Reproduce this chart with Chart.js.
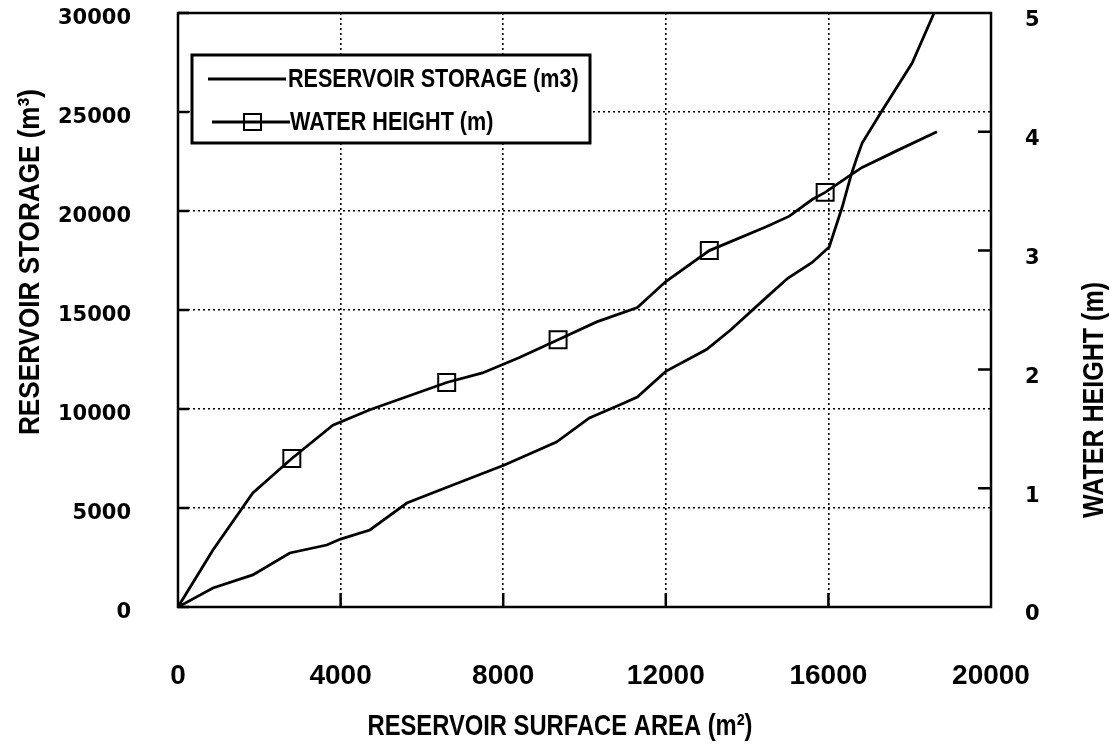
<!DOCTYPE html>
<html>
<head>
<meta charset="utf-8">
<script src="https://cdn.jsdelivr.net/npm/chart.js@4.4.1/dist/chart.umd.min.js"></script>
<style>
  html, body { margin: 0; padding: 0; background: #fff; }
  #wrap { width: 1110px; height: 753px; }
</style>
</head>
<body>
<div id="wrap"><canvas id="resChart" width="1110" height="753"></canvas></div>
<script>
// surface area (m2) vs storage (m3)
const storageArea = [0, 860, 1840, 2750, 3660, 4000, 4720, 5630, 6760, 8030, 9310, 10120, 10860, 11300, 12000, 13000, 13600, 14400, 15000, 15600, 16020, 16340, 16560, 16680, 16830, 17300, 18060, 18600];
const storageVolume = [0, 960, 1620, 2730, 3130, 3430, 3890, 5250, 6160, 7170, 8330, 9550, 10200, 10600, 11900, 13000, 14000, 15500, 16600, 17400, 18180, 20200, 21820, 22570, 23430, 25000, 27470, 30000];

// surface area (m2) vs water height (m)
const heightArea = [0, 860, 1840, 2800, 3810, 4720, 6610, 7490, 8400, 9350, 10300, 11300, 12000, 13070, 14470, 15040, 15600, 15920, 16560, 16830, 17740, 18670];
const heightValue = [0, 0.48, 0.96, 1.25, 1.53, 1.66, 1.89, 1.97, 2.10, 2.25, 2.40, 2.52, 2.74, 3.00, 3.20, 3.29, 3.43, 3.49, 3.64, 3.70, 3.85, 4.00];
const heightMarkers = [2800, 6610, 9350, 13070, 15920];

const areaTicks = [0, 4000, 8000, 12000, 16000, 20000];
const storageTicks = [0, 5000, 10000, 15000, 20000, 25000, 30000];
const heightTicks = [0, 1, 2, 3, 4, 5];

const xTitle = 'RESERVOIR SURFACE AREA (m²)';
const yTitle = 'RESERVOIR STORAGE (m³)';
const y2Title = 'WATER HEIGHT (m)';

const SANS = '"Liberation Sans", Arial, sans-serif';
const INK = '#000';

const toPoints = (xs, ys) => xs.map((x, i) => ({ x: x, y: ys[i] }));

// narrow bold lettering: regular bold face squeezed to a given width
function narrowText(ctx, text, x, y, size, width, rot) {
  ctx.save();
  ctx.font = 'bold ' + size + 'px ' + SANS;
  const sx = width / ctx.measureText(text).width;
  ctx.translate(x, y);
  ctx.rotate(rot || 0);
  ctx.scale(sx, 1);
  ctx.fillStyle = INK;
  ctx.textAlign = 'center';
  ctx.textBaseline = 'middle';
  ctx.fillText(text, 0, 0);
  ctx.restore();
}

// frame, inward tick marks, axis titles and the boxed legend
const framePlugin = {
  id: 'frame',
  afterDraw(chart) {
    const { ctx, chartArea: a, scales } = chart;
    ctx.save();
    ctx.strokeStyle = INK;
    ctx.lineWidth = 2.5;
    ctx.strokeRect(a.left, a.top, a.right - a.left, a.bottom - a.top);

    ctx.beginPath();
    storageTicks.forEach(v => {
      const y = scales.y.getPixelForValue(v);
      ctx.moveTo(a.left, y); ctx.lineTo(a.left + 11, y);
    });
    heightTicks.slice(1, -1).forEach(v => {
      const y = scales.y2.getPixelForValue(v);
      ctx.moveTo(a.right, y); ctx.lineTo(a.right - 13, y);
    });
    areaTicks.slice(1, -1).forEach(v => {
      const x = scales.x.getPixelForValue(v);
      ctx.moveTo(x, a.bottom); ctx.lineTo(x, a.bottom - 14);
    });
    ctx.stroke();

    narrowText(ctx, xTitle, 560, 727, 30, 385, 0);
    narrowText(ctx, yTitle, 31, 262, 30, 346, -Math.PI / 2);
    narrowText(ctx, y2Title, 1095, 400, 30, 236, -Math.PI / 2);

    // legend
    const ds = chart.data.datasets;
    const bx = 192, by = 55, bw = 398, bh = 88, rowH = 43;
    ctx.fillStyle = '#fff';
    ctx.fillRect(bx, by, bw, bh);
    ctx.lineWidth = 3;
    ctx.strokeRect(bx, by, bw, bh);

    ds.forEach((d, i) => {
      const cy = by + 24 + i * rowH;
      ctx.lineWidth = 2.8;
      ctx.beginPath();
      ctx.moveTo(bx + 16 + i * 4, cy); ctx.lineTo(bx + 94 + i * 4, cy);
      ctx.stroke();
      if (d.pointStyle === 'rect') {
        ctx.lineWidth = 2;
        ctx.strokeRect(bx + 52, cy - 8, 17, 16);
      }
      ctx.save();
      ctx.font = 'bold 26px ' + SANS;
      const w = ctx.measureText(d.label).width * 0.83;
      ctx.restore();
      narrowText(ctx, d.label, bx + 96 + i * 2 + w / 2, cy + 1, 26, w, 0);
    });
    ctx.restore();
  }
};

const hideEdgePadding = s => { s.paddingTop = 0; s.paddingBottom = 0; s.paddingLeft = 0; s.paddingRight = 0; };

new Chart(document.getElementById('resChart'), {
  type: 'line',
  data: {
    datasets: [
      {
        label: 'RESERVOIR STORAGE (m3)',
        data: toPoints(storageArea, storageVolume),
        yAxisID: 'y',
        borderColor: INK,
        borderWidth: 2.8,
        pointRadius: 0,
        tension: 0
      },
      {
        label: 'WATER HEIGHT (m)',
        data: toPoints(heightArea, heightValue),
        yAxisID: 'y2',
        borderColor: INK,
        borderWidth: 2.8,
        pointStyle: 'rect',
        pointRadius: c => heightMarkers.includes(c.raw && c.raw.x) ? 12 : 0,
        pointBorderWidth: 2,
        pointBorderColor: INK,
        pointBackgroundColor: 'rgba(255,255,255,0)',
        tension: 0
      }
    ]
  },
  options: {
    responsive: false,
    animation: false,
    layout: { padding: { top: 13, left: 0, right: 0, bottom: 0 } },
    plugins: { legend: { display: false }, tooltip: { enabled: false } },
    scales: {
      x: {
        type: 'linear',
        min: 0, max: 20000,
        afterFit: s => { s.height = 146; hideEdgePadding(s); },
        afterBuildTicks: s => { s.ticks = areaTicks.map(v => ({ value: v })); },
        border: { display: false, dash: [2, 3] },
        grid: { color: INK, lineWidth: 1.6, drawTicks: false },
        ticks: {
          color: INK,
          padding: 52,
          maxRotation: 0,
          font: { family: SANS, size: 28, weight: 'bold' },
          callback: v => String(v)
        }
      },
      y: {
        type: 'linear',
        position: 'left',
        min: 0, max: 30000,
        afterFit: s => { s.width = 178; hideEdgePadding(s); },
        afterBuildTicks: s => { s.ticks = storageTicks.map(v => ({ value: v })); },
        border: { display: false, dash: [2, 3] },
        grid: { color: INK, lineWidth: 1.6, drawTicks: false },
        ticks: {
          color: INK,
          padding: 47,
          labelOffset: 6,
          font: { family: '"DejaVu Sans", sans-serif', size: 21, weight: 'bold' },
          callback: v => String(v)
        }
      },
      y2: {
        type: 'linear',
        position: 'right',
        min: 0, max: 5,
        afterFit: s => { s.width = 119; hideEdgePadding(s); },
        afterBuildTicks: s => { s.ticks = heightTicks.map(v => ({ value: v })); },
        border: { display: false },
        grid: { display: false, drawOnChartArea: false, drawTicks: false },
        ticks: {
          color: INK,
          padding: 34,
          labelOffset: 8,
          font: { family: '"DejaVu Sans", sans-serif', size: 21, weight: 'bold' },
          callback: v => String(v)
        }
      }
    }
  },
  plugins: [framePlugin]
});
</script>
</body>
</html>
